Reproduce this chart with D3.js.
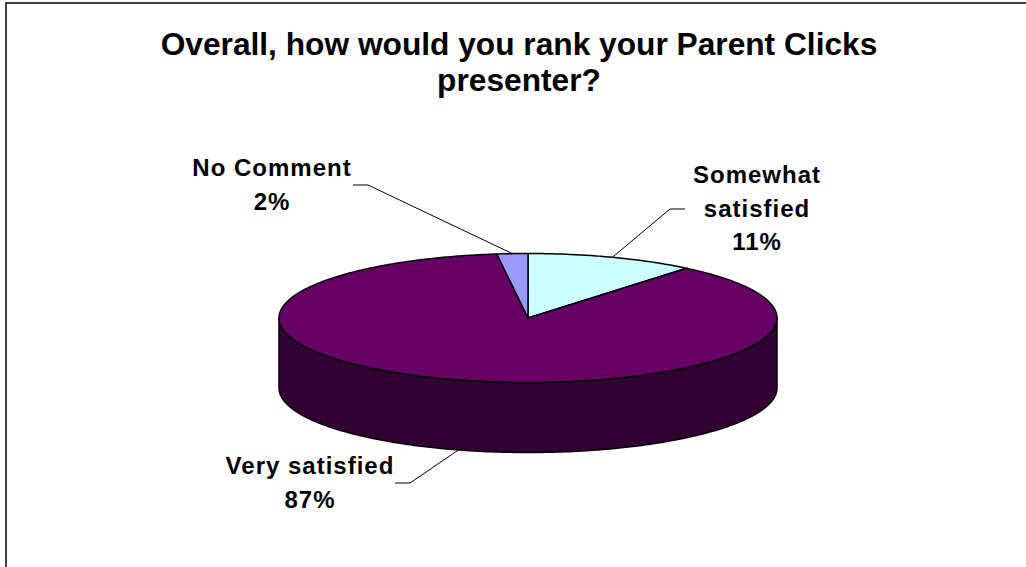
<!DOCTYPE html>
<html>
<head>
<meta charset="utf-8">
<script src="https://cdn.jsdelivr.net/npm/d3@7"></script>
<style>
  html, body { margin: 0; padding: 0; background: #fff; }
  svg { display: block; }
  text { font-family: Arial, "Liberation Sans", sans-serif; font-weight: bold; fill: #000; }
</style>
</head>
<body>
<svg id="chart" width="1026" height="567"></svg>
<script>
// Survey answers, in drawing order (clockwise from 12 o'clock)
const categories = ["Somewhat satisfied", "Very satisfied", "No Comment"];
const values = [11, 87, 2];
const labelLines = [["Somewhat", "satisfied", "11%"], ["Very satisfied", "87%"], ["No Comment", "2%"]];
const titleLines = ["Overall, how would you rank your Parent Clicks", "presenter?"];

const topColors = ["#CCFFFF", "#660066", "#9999FF"];
const sideColors = ["#99CCCC", "#330033", "#6666CC"];

const W = 1026, H = 567;
const svg = d3.select("#chart");

// Chart frame (only its top-left corner falls inside the view)
svg.append("rect")
  .attr("x", 6).attr("y", 3).attr("width", 1040).attr("height", 600)
  .attr("fill", "#fff").attr("stroke", "#000").attr("stroke-width", 1.5);

// Title
const title = svg.append("text").attr("text-anchor", "middle").style("font-size", "31.7px");
titleLines.forEach((t, i) => {
  title.append("tspan").attr("x", 519).attr("y", 55 + i * 36).text(t);
});

// Pie geometry: tilted ellipse with a vertical wall
const cx = 528, cy = 318, rx = 249, ry = 64.5, depth = 70;
const px = d3.scaleLinear().domain([-1, 1]).range([cx - rx, cx + rx]);
const py = d3.scaleLinear().domain([-1, 1]).range([cy - ry, cy + ry]);
const pt = (a, dz = 0) => [px(Math.sin(a)), py(-Math.cos(a)) + dz];

const arcs = d3.pie().sort(null).value(d => d)(values);
const line = d3.line();

const sample = (a0, a1, dz) => {
  const n = Math.max(2, Math.ceil(Math.abs(a1 - a0) / 0.01));
  return d3.range(n + 1).map(i => pt(a0 + (a1 - a0) * i / n, dz));
};

// Side walls: only the front half of the rim (angles between π/2 and 3π/2) faces the viewer
const gSide = svg.append("g");
arcs.forEach((d, i) => {
  const a0 = Math.max(d.startAngle, Math.PI / 2);
  const a1 = Math.min(d.endAngle, 3 * Math.PI / 2);
  if (a1 <= a0) return;
  const pts = sample(a0, a1, 0).concat(sample(a1, a0, depth));
  gSide.append("path")
    .attr("d", line(pts) + "Z")
    .attr("fill", sideColors[i])
    .attr("stroke", "#000").attr("stroke-width", 1.5).attr("stroke-linejoin", "round");
});

// Top faces
const gTop = svg.append("g");
arcs.forEach((d, i) => {
  const pts = [[cx, cy]].concat(sample(d.startAngle, d.endAngle, 0));
  gTop.append("path")
    .attr("d", line(pts) + "Z")
    .attr("fill", topColors[i])
    .attr("stroke", "#000").attr("stroke-width", 1.5).attr("stroke-linejoin", "round");
});

// Data labels with leader lines
const labelPos = [
  { x: 757, y: 183, elbow: [[685, 209], [670, 209]], front: false },
  { x: 310, y: 474, elbow: [[395, 483], [410, 483]], front: true },
  { x: 272, y: 176, elbow: [[353, 185], [368, 185]], front: false }
];
const lineGap = 33.5;

arcs.forEach((d, i) => {
  const lp = labelPos[i];
  const mid = (d.startAngle + d.endAngle) / 2;
  const anchor = pt(mid, lp.front ? depth : 0);
  svg.append("path")
    .attr("d", line([lp.elbow[0], lp.elbow[1], anchor]))
    .attr("fill", "none").attr("stroke", "#000").attr("stroke-width", 1);

  const t = svg.append("text").attr("text-anchor", "middle")
    .style("font-size", "24px").style("letter-spacing", "1px");
  labelLines[i].forEach((s, j) => {
    t.append("tspan").attr("x", lp.x).attr("y", lp.y + j * lineGap).text(s);
  });
});
</script>
</body>
</html>
